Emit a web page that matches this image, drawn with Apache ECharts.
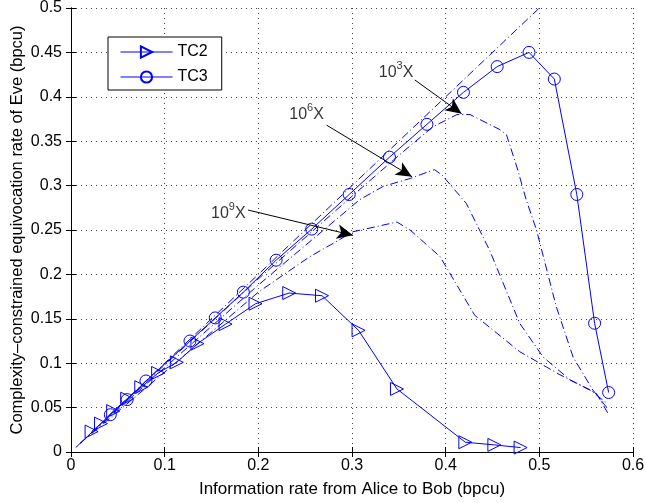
<!DOCTYPE html>
<html>
<head>
<meta charset="utf-8">
<script src="https://cdn.jsdelivr.net/npm/echarts@6/dist/echarts.min.js"></script>
<style>
  html, body { margin: 0; padding: 0; background: #fff; }
  #main { width: 645px; height: 503px; }
</style>
</head>
<body>
<div id="main"></div>
<script>
// TC2 (triangles) and TC3 (circles)
var tc2X = [0.022, 0.032, 0.045, 0.060, 0.075, 0.093, 0.113, 0.135, 0.165, 0.197, 0.233, 0.268, 0.307, 0.348, 0.421, 0.452, 0.480];
var tc2Y = [0.023, 0.032, 0.046, 0.060, 0.073, 0.089, 0.101, 0.122, 0.144, 0.167, 0.179, 0.176, 0.137, 0.071, 0.011, 0.008, 0.005];
var tc3X = [0.042, 0.060, 0.080, 0.127, 0.154, 0.184, 0.219, 0.257, 0.297, 0.340, 0.380, 0.419, 0.455, 0.489, 0.516, 0.540, 0.559, 0.574];
var tc3Y = [0.042, 0.059, 0.080, 0.125, 0.151, 0.180, 0.216, 0.251, 0.290, 0.332, 0.369, 0.405, 0.434, 0.450, 0.420, 0.290, 0.145, 0.067];

// reference y = x and the 10^3 / 10^6 / 10^9 curves
var refLine = [[0.005, 0.005], [0.5, 0.5]];
var curve3 = [[0.01, 0.01], [0.1, 0.098], [0.2, 0.195], [0.3, 0.288], [0.35, 0.334], [0.386, 0.366], [0.412, 0.38], [0.426, 0.38],
  [0.458, 0.363], [0.465, 0.357], [0.476, 0.321], [0.486, 0.284], [0.497, 0.25], [0.518, 0.164], [0.536, 0.107], [0.557, 0.070], [0.572, 0.050]];
var curve6 = [[0.01, 0.01], [0.1, 0.095], [0.2, 0.188], [0.308, 0.284], [0.333, 0.299], [0.362, 0.308], [0.388, 0.318], [0.396, 0.312],
  [0.422, 0.28], [0.447, 0.227], [0.479, 0.145], [0.504, 0.107], [0.533, 0.081], [0.561, 0.066], [0.573, 0.044]];
var curve9 = [[0.01, 0.01], [0.1, 0.09], [0.2, 0.18], [0.255, 0.22], [0.280, 0.235], [0.301, 0.248], [0.348, 0.259], [0.362, 0.25],
  [0.394, 0.22], [0.431, 0.154], [0.479, 0.113], [0.522, 0.087], [0.554, 0.070], [0.572, 0.055]];

// annotation arrows: [start, tip] and label anchors
var arrows = [
  [[0.367, 0.419], [0.417, 0.381]],
  [[0.273, 0.368], [0.364, 0.310]],
  [[0.189, 0.2725], [0.301, 0.244]]
];
var annoLabels = [
  {pos: [0.347, 0.430], exp: '3'},
  {pos: [0.2515, 0.382], exp: '6'},
  {pos: [0.168, 0.271], exp: '9'}
];

var xTicks = {min: 0, max: 0.6, interval: 0.1};
var yTicks = {min: 0, max: 0.5, interval: 0.05};

var blue = '#0000ff';
var font = '"Liberation Sans", Arial, Helvetica, sans-serif';
var dashDot = [8, 3, 1, 3];

function zip(xs, ys) {
  return xs.map(function(x, i) { return [x, ys[i]]; });
}

var chart = echarts.init(document.getElementById('main'));

function curveSeries(name, data) {
  return {
    name: name,
    type: 'line',
    data: data,
    showSymbol: false,
    symbol: 'none',
    silent: true,
    lineStyle: {color: blue, width: 1, type: dashDot},
    z: 2
  };
}

var axisCommon = {
  type: 'value',
  axisLine: {show: true, lineStyle: {color: '#000', width: 1}},
  axisTick: {show: true, inside: true, length: 5, lineStyle: {color: '#000'}},
  splitLine: {show: false}
};

var option = {
  animation: false,
  backgroundColor: '#fff',
  textStyle: {fontFamily: font},
  grid: {left: 71, right: 12, top: 8, bottom: 51, show: false, outerBoundsMode: 'none', containLabel: false},
  legend: {
    orient: 'vertical',
    left: 108,
    top: 37,
    padding: [7, 14, 5, 12],
    itemGap: 9,
    itemWidth: 52,
    itemHeight: 14,
    borderColor: '#000',
    borderWidth: 1,
    backgroundColor: '#fff',
    lineStyle: {width: 1},
    textStyle: {fontSize: 16, color: '#000', fontFamily: font, lineHeight: 16},
    data: ['TC2', 'TC3']
  },
  xAxis: [
    Object.assign({}, axisCommon, {
      min: xTicks.min, max: xTicks.max, interval: xTicks.interval,
      position: 'bottom',
      name: 'Information rate from Alice to Bob (bpcu)',
      nameLocation: 'middle',
      nameGap: 29,
      nameMoveOverlap: false,
      nameTextStyle: {fontSize: 17, color: '#000', fontFamily: font},
      axisLabel: {fontSize: 16, color: '#000', margin: 6, fontFamily: font},
      splitLine: {show: true, lineStyle: {color: '#444', type: [1, 4], width: 1}}
    }),
    Object.assign({}, axisCommon, {
      min: xTicks.min, max: xTicks.max, interval: xTicks.interval,
      position: 'top',
      axisLabel: {show: false}
    })
  ],
  yAxis: [
    Object.assign({}, axisCommon, {
      min: yTicks.min, max: yTicks.max, interval: yTicks.interval,
      position: 'left',
      name: 'Complexity\u2013constrained equivocation rate of Eve (bpcu)',
      nameLocation: 'middle',
      nameGap: 45,
      nameMoveOverlap: false,
      nameTextStyle: {fontSize: 16.5, color: '#000', fontFamily: font},
      axisLabel: {fontSize: 16, color: '#000', margin: 9, fontFamily: font},
      splitLine: {show: true, lineStyle: {color: '#444', type: [1, 4], width: 1}}
    }),
    Object.assign({}, axisCommon, {
      min: yTicks.min, max: yTicks.max, interval: yTicks.interval,
      position: 'right',
      axisLabel: {show: false}
    })
  ],
  series: [
    Object.assign(curveSeries('ref', refLine), {
      markLine: {
        silent: true,
        symbol: ['none', 'arrow'],
        symbolSize: [11, 16],
        label: {show: false},
        lineStyle: {color: '#000', width: 1, type: 'solid'},
        data: arrows.map(function(a) {
          return [{coord: a[0]}, {coord: a[1]}];
        })
      }
    }),
    curveSeries('c3', curve3),
    curveSeries('c6', curve6),
    curveSeries('c9', curve9),
    {
      name: 'TC2',
      type: 'line',
      data: zip(tc2X, tc2Y),
      symbol: 'triangle',
      symbolRotate: -90,
      symbolSize: 13,
      itemStyle: {color: 'rgba(255,255,255,0)', borderColor: blue, borderWidth: 1},
      lineStyle: {color: blue, width: 1},
      z: 3
    },
    {
      name: 'TC3',
      type: 'line',
      data: zip(tc3X, tc3Y),
      symbol: 'circle',
      symbolSize: 12,
      itemStyle: {color: 'rgba(255,255,255,0)', borderColor: blue, borderWidth: 1},
      lineStyle: {color: blue, width: 1},
      z: 3
    },
    {
      name: 'anno',
      type: 'scatter',
      silent: true,
      symbolSize: 1,
      itemStyle: {color: 'rgba(0,0,0,0)'},
      data: annoLabels.map(function(d) {
        return {
          value: d.pos,
          label: {
            show: true,
            position: 'inside',
            formatter: '{a|10}{b|' + d.exp + '}{a|X}',
            rich: {
              a: {fontSize: 16, color: '#000', fontFamily: font, verticalAlign: 'bottom'},
              b: {fontSize: 11, color: '#000', fontFamily: font, padding: [0, 0, 9, 0]}
            }
          }
        };
      }),
      z: 4
    }
  ]
};

chart.setOption(option);
</script>
</body>
</html>
